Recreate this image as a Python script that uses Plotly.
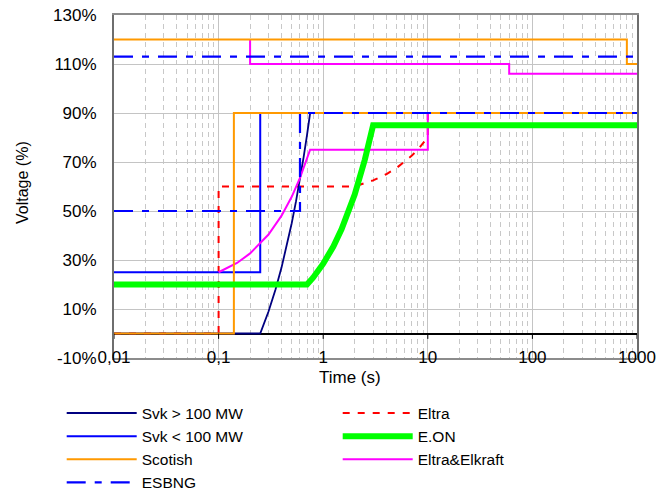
import plotly.graph_objects as go

# ---------------- data ----------------
svk_gt_t = [0.01, 0.25, 0.3, 0.35, 0.4, 0.45, 0.5, 0.55, 0.6, 0.65, 0.7, 0.75, 1000]
svk_gt_v = [0, 0, 9, 18, 27, 36, 45, 54, 63, 72, 81, 90, 90]

svk_lt_t = [0.01, 0.25, 0.25, 1000]
svk_lt_v = [25, 25, 90, 90]

scot_t = [0.01, 800, 800, 1000, None, 0.01, 0.14, 0.14, 1000]
scot_v = [120, 120, 110, 110, None, 0, 0, 90, 90]

esbng_t = [0.01, 1000, None, 0.01, 0.6, 0.6, 1000]
esbng_v = [113, 113, None, 50, 50, 90, 90]

eltra_t = [0.01, 0.1, 0.1, 2, 3, 4, 5, 6, 7, 8, 9, 10, 10, 1000]
eltra_v = [0, 0, 60, 60, 62.5, 65, 67.5, 70, 72.5, 75, 77.5, 80, 90, 90]

eon_t = [0.01, 0.7, 0.8, 1, 1.25, 1.5, 2, 2.5, 3, 1000]
eon_v = [20, 20, 22.8, 28.5, 35.5, 42.6, 56.7, 70.9, 85, 85]

ee_t = [0.2, 0.2, 60, 60, 1000, None,
        0.1, 0.15, 0.2, 0.3, 0.4, 0.5, 0.6, 0.75, 10, 10, 1000]
ee_v = [120, 110, 110, 106, 106, None,
        25, 28.8, 32.7, 40.4, 48.1, 55.8, 63.5, 75, 75, 90, 90]

x_tickvals = [0.01, 0.1, 1, 10, 100, 1000]
x_ticktext = ["0,01", "0,1", "1", "10", "100", "1000"]
y_tickvals = [130, 110, 90, 70, 50, 30, 10, -10]
y_ticktext = ["130%", "110%", "90%", "70%", "50%", "30%", "10%", "-10%"]

FONT = "Liberation Sans, Arial, sans-serif"

fig = go.Figure()

def add(name, t, v, color, width, dash="solid", rank=1):
    fig.add_trace(go.Scatter(x=t, y=v, name=name, mode="lines",
                             line=dict(color=color, width=width, dash=dash),
                             connectgaps=False, legendrank=rank,
                             hoverinfo="skip"))

# drawing order bottom -> top
add("Eltra", eltra_t, eltra_v, "#FF0000", 2, "7px,8px", 2)
add("Svk > 100 MW", svk_gt_t, svk_gt_v, "#000080", 1.8, "solid", 1)
add("Svk < 100 MW", svk_lt_t, svk_lt_v, "#0000FF", 2, "solid", 3)
add("Eltra&Elkraft", ee_t, ee_v, "#FF00FF", 2, "solid", 6)
add("Scotish", scot_t, scot_v, "#FF9900", 2, "solid", 5)
add("E.ON", eon_t, eon_v, "#00FF00", 6, "solid", 4)
add("ESBNG", esbng_t, esbng_v, "#0000FF", 2.2, "19px,9px,7px,9px", 7)

minor_vals = [m * 10 ** e for e in range(-2, 3) for m in range(2, 10)]

# decade tick marks crossing the 0 % line
shapes = []
for xv in x_tickvals:
    shapes.append(dict(type="line", xref="x", yref="y", x0=xv, x1=xv,
                       y0=0, y1=-2.2, line=dict(color="black", width=1)))

fig.update_layout(
    width=660, height=493,
    margin=dict(l=114, r=23, t=15, b=135, autoexpand=False),
    paper_bgcolor="white", plot_bgcolor="white",
    font=dict(family=FONT, size=16, color="black"),
    showlegend=True,
    legend=dict(orientation="h", x=-0.100, y=-0.112, xanchor="left", yanchor="top",
                entrywidth=191, entrywidthmode="pixels", itemwidth=70,
                font=dict(family=FONT, size=15.5, color="black"),
                bgcolor="rgba(0,0,0,0)", tracegroupgap=0),
    xaxis=dict(type="log", range=[-2, 3], tickvals=x_tickvals, ticktext=x_ticktext,
               showgrid=True, gridcolor="#C4C4C4", gridwidth=1,
               showline=True, linecolor="#8C8C8C", linewidth=2, mirror=True,
               ticks="", ticklabelstandoff=-17, zeroline=False, automargin=False,
               tickfont=dict(family=FONT, size=17),
               minor=dict(tickvals=minor_vals, showgrid=True, gridcolor="#C8C8C8",
                          griddash="5px,4px", gridwidth=1, ticks="")),
    yaxis=dict(range=[-10, 130], tickvals=y_tickvals, ticktext=y_ticktext,
               showgrid=True, gridcolor="#C4C4C4", gridwidth=1,
               showline=True, linecolor="#6E6E6E", linewidth=2, mirror=True,
               ticks="outside", ticklen=12, tickcolor="rgba(0,0,0,0)",
               zeroline=True, zerolinecolor="black", zerolinewidth=1.5,
               automargin=False, tickfont=dict(family=FONT, size=17)),
    shapes=shapes,
    annotations=[
        dict(text="Time (s)", xref="paper", yref="paper", x=(350 - 114) / 523,
             y=-(377 - 358) / 343, xanchor="center", yanchor="middle",
             showarrow=False, font=dict(family=FONT, size=17)),
        dict(text="Voltage (%)", xref="paper", yref="paper", x=-(114 - 22) / 523,
             y=(358 - 183) / 343, xanchor="center", yanchor="middle", textangle=-90,
             showarrow=False, font=dict(family=FONT, size=16)),
    ],
)

fig.write_html("out.html", config={"displayModeBar": False},
               post_script="document.body.style.margin='0';document.body.style.padding='0';")
